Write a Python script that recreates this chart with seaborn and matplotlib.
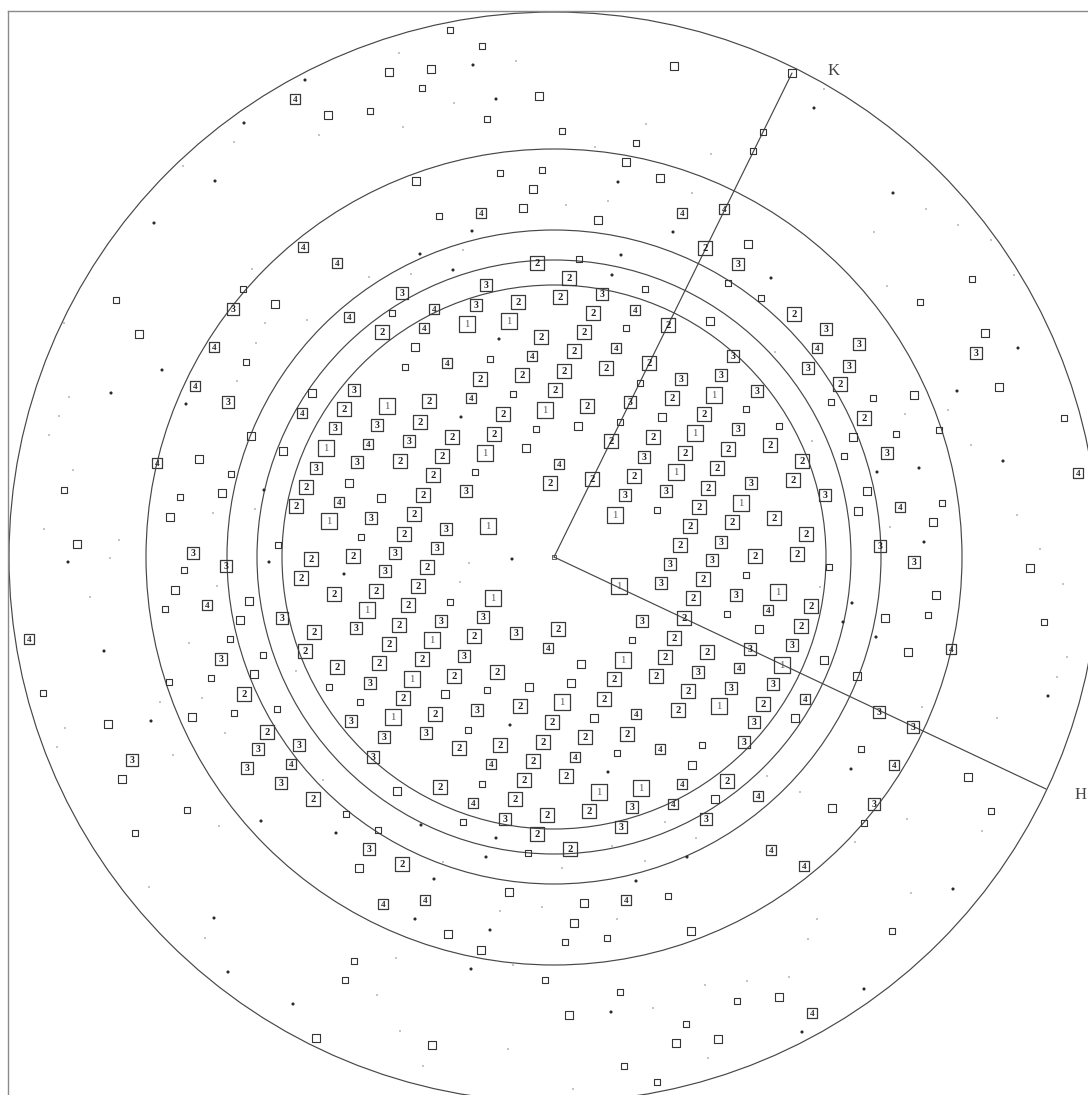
import numpy as np
import pandas as pd
import matplotlib
matplotlib.use("Agg")
import matplotlib.pyplot as plt
from matplotlib.patches import Circle
import seaborn as sns

# Detector geometry (pixel frame, origin at top-left of the plate)
beam_centre = (554, 557)
ring_radii = [545, 408, 327, 297, 272]
axis_ends = {"K": (792, 73), "H": (1046, 789)}
axis_label_pos = {"K": (828, 71), "H": (1075, 795)}

# Indexed reflections: (x, y, resolution order)
indexed_spots = [
    (295, 99, 4), (303, 247, 4), (337, 263, 4), (233, 309, 3), (349, 317, 4), (214, 347, 4),
    (481, 213, 4), (682, 213, 4), (724, 209, 4), (705, 248, 2), (537, 263, 2), (569, 278, 2),
    (402, 293, 3), (486, 285, 3), (476, 305, 3), (518, 302, 2), (560, 297, 2), (602, 294, 3),
    (434, 309, 4), (593, 313, 2), (635, 310, 4), (668, 325, 2), (382, 332, 2), (424, 328, 4),
    (467, 324, 1), (509, 321, 1), (541, 337, 2), (584, 332, 2), (574, 351, 2), (616, 348, 4),
    (532, 356, 4), (447, 363, 4), (649, 363, 2),
    (738, 264, 3), (794, 314, 2), (826, 329, 3), (859, 344, 3), (817, 348, 4), (976, 353, 3),
    (733, 356, 3),
    (808, 368, 3), (849, 366, 3), (840, 384, 2), (757, 391, 3), (864, 418, 2), (738, 429, 3),
    (728, 449, 2), (770, 445, 2), (887, 453, 3), (802, 461, 2), (1078, 473, 4), (751, 483, 3),
    (793, 480, 2), (825, 495, 3), (741, 503, 1), (900, 507, 4), (732, 522, 2), (774, 518, 2),
    (806, 534, 2), (880, 546, 3), (755, 556, 2), (797, 554, 2), (914, 562, 3), (736, 595, 3),
    (778, 592, 1), (811, 606, 2), (768, 610, 4), (801, 626, 2), (792, 645, 3), (750, 649, 3),
    (951, 649, 4), (782, 665, 1), (739, 668, 4), (773, 684, 3), (731, 688, 3), (763, 704, 2),
    (805, 699, 4), (879, 712, 3), (754, 722, 3), (913, 727, 3),
    (744, 742, 3), (727, 781, 2), (894, 765, 4), (758, 796, 4), (874, 804, 3), (771, 850, 4),
    (804, 866, 4), (812, 1013, 4),
    (384, 737, 3), (426, 733, 3), (459, 748, 2), (500, 745, 2), (543, 742, 2), (585, 737, 2),
    (627, 734, 2), (373, 757, 3), (491, 764, 4), (533, 761, 2), (575, 757, 4), (660, 749, 4),
    (440, 787, 2), (524, 780, 2), (566, 776, 2), (599, 792, 1), (641, 788, 1), (682, 784, 4),
    (473, 803, 4), (515, 799, 2), (632, 807, 3), (673, 804, 4), (706, 819, 3), (505, 819, 3),
    (547, 815, 2), (589, 811, 2), (621, 827, 3), (537, 834, 2), (369, 849, 3), (570, 849, 2),
    (402, 864, 2), (626, 900, 4), (383, 904, 4), (425, 900, 4),
    (267, 732, 2), (258, 749, 3), (299, 745, 3), (132, 760, 3), (247, 768, 3), (291, 764, 4),
    (281, 783, 3), (313, 799, 2),
    (195, 386, 4), (228, 402, 3), (302, 413, 4), (354, 390, 3), (344, 409, 2), (335, 428, 3),
    (326, 448, 1), (357, 462, 3), (157, 463, 4), (316, 468, 3), (306, 487, 2), (296, 506, 2),
    (339, 502, 4), (329, 521, 1), (193, 553, 3), (311, 559, 2), (353, 556, 2), (226, 566, 3),
    (301, 578, 2), (334, 594, 2), (207, 605, 4), (282, 618, 3), (356, 628, 3), (29, 639, 4),
    (314, 632, 2), (305, 651, 2), (221, 659, 3), (337, 667, 2), (244, 694, 2), (351, 721, 3),
    (480, 379, 2), (522, 375, 2), (564, 371, 2), (606, 368, 2), (681, 379, 3), (721, 375, 3),
    (387, 406, 1), (429, 401, 2), (471, 398, 4), (555, 390, 2), (630, 402, 3), (672, 398, 2),
    (714, 395, 1), (377, 425, 3), (420, 422, 2), (503, 414, 2), (545, 410, 1), (587, 406, 2),
    (704, 414, 2), (368, 444, 4), (409, 441, 3), (452, 437, 2), (494, 434, 2), (611, 441, 2),
    (653, 437, 2), (695, 433, 1), (400, 461, 2), (442, 456, 2), (485, 453, 1), (559, 464, 4),
    (644, 457, 3), (685, 453, 2), (433, 475, 2), (550, 483, 2), (592, 479, 2), (634, 476, 2),
    (676, 472, 1), (717, 468, 2), (423, 495, 2), (466, 491, 3), (625, 495, 3), (666, 491, 3),
    (708, 488, 2), (371, 518, 3), (414, 514, 2), (615, 515, 1), (699, 507, 2), (404, 534, 2),
    (446, 529, 3), (488, 526, 1), (690, 526, 2), (395, 553, 3), (437, 548, 3), (680, 545, 2),
    (721, 542, 3), (385, 571, 3), (427, 567, 2), (670, 564, 3), (712, 560, 3), (376, 591, 2),
    (418, 586, 2), (619, 586, 1), (661, 583, 3), (703, 579, 2), (367, 610, 1), (408, 605, 2),
    (493, 598, 1), (693, 598, 2), (399, 625, 2), (441, 621, 3), (483, 617, 3), (642, 621, 3),
    (684, 618, 2), (389, 644, 2), (432, 640, 1), (474, 636, 2), (516, 633, 3), (558, 629, 2),
    (674, 638, 2), (707, 652, 2), (379, 663, 2), (422, 659, 2), (464, 656, 3), (548, 648, 4),
    (623, 660, 1), (665, 657, 2), (698, 672, 3), (370, 683, 3), (412, 679, 1), (454, 676, 2),
    (497, 672, 2), (614, 679, 2), (656, 676, 2), (688, 691, 2), (403, 698, 2), (393, 717, 1),
    (435, 714, 2), (477, 710, 3), (520, 706, 2), (562, 702, 1), (604, 699, 2), (678, 710, 2),
    (719, 706, 1), (552, 722, 2), (636, 714, 4),
]

# Unindexed reflections: (x, y, strength class) - "L" strong, "S" weaker
open_spots = [
    (328, 115, "L"), (243, 289, "S"), (116, 300, "S"), (275, 304, "L"), (139, 334, "L"), (246, 362, "S"),
    (450, 30, "S"), (482, 46, "S"), (389, 72, "L"), (431, 69, "L"), (674, 66, "L"), (422, 88, "S"),
    (539, 96, "L"), (370, 111, "S"), (487, 119, "S"), (562, 131, "S"), (636, 143, "S"), (626, 162, "L"),
    (416, 181, "L"), (500, 173, "S"), (542, 170, "S"), (533, 189, "L"), (660, 178, "L"), (439, 216, "S"),
    (523, 208, "L"), (598, 220, "L"), (579, 259, "S"), (645, 289, "S"), (392, 313, "S"), (710, 321, "L"),
    (626, 328, "S"), (415, 347, "L"), (490, 359, "S"),
    (792, 73, "L"), (763, 132, "S"), (753, 151, "S"), (748, 244, "L"), (728, 283, "S"), (761, 298, "S"),
    (972, 279, "S"), (920, 302, "S"), (985, 333, "L"),
    (914, 395, "L"), (873, 398, "S"), (999, 387, "L"), (831, 402, "S"), (746, 409, "S"), (1064, 418, "S"),
    (779, 426, "S"), (939, 430, "S"), (896, 434, "S"), (853, 437, "L"), (844, 456, "S"), (867, 491, "L"),
    (858, 511, "L"), (942, 503, "S"), (933, 522, "L"), (829, 567, "S"), (1030, 568, "L"), (746, 575, "S"),
    (936, 595, "L"), (928, 615, "S"), (1044, 622, "S"), (885, 618, "L"), (727, 614, "S"), (759, 629, "L"),
    (908, 652, "L"), (824, 660, "L"), (857, 676, "L"), (795, 718, "L"),
    (861, 749, "S"), (968, 777, "L"), (832, 808, "L"), (864, 823, "S"), (991, 811, "S"), (892, 931, "S"),
    (779, 997, "L"), (737, 1001, "S"),
    (468, 730, "S"), (617, 753, "S"), (702, 745, "S"), (692, 765, "L"), (397, 791, "L"), (482, 784, "S"),
    (715, 799, "L"), (463, 822, "S"), (378, 830, "S"), (528, 853, "S"), (509, 892, "L"), (584, 903, "L"),
    (668, 896, "S"), (574, 923, "L"), (448, 934, "L"), (565, 942, "S"), (607, 938, "S"), (691, 931, "L"),
    (481, 950, "L"), (545, 980, "S"), (620, 992, "S"), (569, 1015, "L"), (686, 1024, "S"), (432, 1045, "L"),
    (676, 1043, "L"), (718, 1039, "L"), (624, 1066, "S"), (657, 1082, "S"),
    (122, 779, "L"), (187, 810, "S"), (346, 814, "S"), (135, 833, "S"), (359, 868, "L"), (354, 961, "S"),
    (345, 980, "S"), (316, 1038, "L"),
    (312, 393, "L"), (251, 436, "L"), (283, 451, "L"), (199, 459, "L"), (231, 474, "S"), (349, 483, "L"),
    (64, 490, "S"), (222, 493, "L"), (180, 497, "S"), (170, 517, "L"), (361, 537, "S"), (77, 544, "L"),
    (278, 545, "S"), (184, 570, "S"), (175, 590, "L"), (249, 601, "L"), (165, 609, "S"), (240, 620, "L"),
    (230, 639, "S"), (263, 655, "S"), (211, 678, "S"), (169, 682, "S"), (254, 674, "L"), (329, 687, "S"),
    (43, 693, "S"), (277, 709, "S"), (234, 713, "S"), (360, 702, "S"), (192, 717, "L"), (108, 724, "L"),
    (405, 367, "S"), (513, 394, "S"), (640, 383, "S"), (620, 422, "S"), (662, 417, "L"), (536, 429, "S"),
    (578, 426, "L"), (526, 448, "L"), (475, 472, "S"), (381, 498, "L"), (657, 510, "S"), (450, 602, "S"),
    (632, 640, "S"), (581, 664, "L"), (445, 694, "L"), (487, 690, "S"), (529, 687, "L"), (571, 683, "L"),
    (594, 718, "L"),
]

# Faint diffuse spots: (x, y, class) - "d" visible dot, "t" trace
weak_spots = [
    (305, 80, "d"), (244, 123, "d"), (319, 135, "t"), (234, 142, "t"), (183, 166, "t"), (215, 181, "d"),
    (154, 223, "d"), (252, 269, "t"), (265, 323, "t"), (307, 320, "t"), (256, 343, "t"), (64, 323, "t"),
    (399, 53, "t"), (473, 65, "d"), (516, 61, "t"), (454, 103, "t"), (496, 99, "d"), (403, 127, "t"),
    (646, 124, "t"), (595, 147, "t"), (711, 154, "t"), (618, 182, "d"), (692, 193, "t"), (566, 205, "t"),
    (608, 201, "t"), (472, 231, "d"), (673, 232, "d"), (420, 254, "d"), (463, 250, "t"), (621, 255, "d"),
    (369, 277, "t"), (411, 274, "t"), (453, 270, "d"), (612, 275, "d"), (499, 339, "d"),
    (824, 89, "t"), (814, 108, "d"), (893, 193, "d"), (926, 209, "t"), (958, 225, "t"), (874, 232, "t"),
    (991, 240, "t"), (771, 278, "d"), (887, 286, "t"), (1014, 275, "t"), (775, 352, "t"), (1018, 348, "d"),
    (957, 391, "d"), (948, 410, "t"), (905, 414, "t"), (971, 445, "t"), (812, 441, "t"), (1003, 461, "d"),
    (877, 472, "d"), (919, 468, "d"), (1017, 515, "t"), (890, 527, "t"), (924, 542, "d"), (1040, 549, "t"),
    (1063, 584, "t"), (820, 587, "t"), (852, 603, "d"), (843, 622, "d"), (876, 637, "d"), (1067, 657, "t"),
    (1057, 677, "t"), (1048, 696, "d"), (922, 707, "t"), (997, 718, "t"),
    (851, 769, "d"), (767, 776, "t"), (800, 792, "t"), (907, 819, "t"), (982, 831, "t"), (855, 842, "t"),
    (953, 889, "d"), (911, 893, "t"), (817, 919, "t"), (808, 939, "t"), (789, 977, "t"), (747, 981, "t"),
    (864, 989, "d"), (802, 1032, "d"),
    (608, 772, "d"), (421, 825, "d"), (665, 822, "t"), (696, 838, "t"), (496, 838, "d"), (612, 846, "t"),
    (486, 857, "d"), (443, 862, "t"), (645, 861, "t"), (687, 857, "d"), (562, 868, "t"), (434, 879, "d"),
    (636, 881, "d"), (542, 907, "t"), (500, 911, "t"), (415, 919, "d"), (617, 919, "t"), (490, 930, "d"),
    (396, 958, "t"), (513, 965, "t"), (471, 969, "d"), (705, 985, "t"), (377, 995, "t"), (653, 1008, "t"),
    (611, 1012, "d"), (400, 1031, "t"), (508, 1049, "t"), (708, 1058, "t"), (423, 1066, "t"), (573, 1089, "t"),
    (173, 755, "t"), (225, 733, "t"), (57, 747, "t"), (323, 780, "t"), (261, 821, "d"), (336, 833, "d"),
    (219, 826, "t"), (149, 887, "t"), (214, 918, "d"), (205, 938, "t"), (228, 972, "d"), (293, 1004, "d"),
    (162, 370, "d"), (111, 393, "d"), (69, 397, "t"), (237, 381, "t"), (186, 404, "d"), (59, 416, "t"),
    (49, 435, "t"), (73, 470, "t"), (264, 490, "d"), (213, 513, "t"), (255, 509, "t"), (44, 529, "t"),
    (119, 540, "t"), (110, 558, "t"), (68, 562, "d"), (269, 562, "d"), (344, 574, "d"), (217, 586, "t"),
    (90, 597, "t"), (189, 643, "t"), (104, 651, "d"), (296, 671, "t"), (202, 698, "t"), (151, 721, "d"),
    (160, 702, "t"), (65, 728, "t"),
    (461, 417, "d"), (512, 559, "d"), (469, 563, "t"), (460, 582, "t"), (510, 725, "d"),
]

# ---------------------------------------------------------------- tables
idx = pd.DataFrame(indexed_spots, columns=["x", "y", "order"])
idx["order"] = idx["order"].astype(str)
opn = pd.DataFrame(open_spots, columns=["x", "y", "cls"])
wk = pd.DataFrame(weak_spots, columns=["x", "y", "cls"])

# ---------------------------------------------------------------- figure
sns.set_style("white")
plt.rcParams["font.family"] = ["Liberation Serif", "DejaVu Serif"]

W, H = 1088, 1095
fig = plt.figure(figsize=(W / 100, H / 100), dpi=100)
# Plate frame: left/top edges visible, right/bottom run past the image
x0, x1, y0, y1 = 8, 1100, 11, 1105
ax = fig.add_axes([x0 / W, 1 - y1 / H, (x1 - x0) / W, (y1 - y0) / H])
ax.set_xlim(x0, x1)
ax.set_ylim(y1, y0)
ax.set_xticks([])
ax.set_yticks([])
ax.set_xlabel("")
ax.set_ylabel("")
for s in ax.spines.values():
    s.set_color("#8a8a8a")
    s.set_linewidth(1.0)

cx, cy = beam_centre
line_col = "#474747"
for r in ring_radii:
    ax.add_patch(Circle((cx, cy), r, fill=False, ec=line_col, lw=0.85, zorder=1))

for name, (ex, ey) in axis_ends.items():
    ax.plot([cx, ex], [cy, ey], color=line_col, lw=0.85, zorder=1)
    lx, ly = axis_label_pos[name]
    ax.text(lx, ly, name, fontsize=12, color="#444444", ha="left", va="center",
            family=["Liberation Serif", "DejaVu Serif"], clip_on=False)
ax.scatter([cx], [cy], s=6, marker="s", facecolor="none", edgecolor=line_col, lw=0.6, zorder=2)

# weak diffuse spots
sns.scatterplot(data=wk, x="x", y="y", size="cls", sizes={"d": 5, "t": 1.5},
                hue="cls", palette={"d": "#2a2a2a", "t": "#9a9a9a"},
                marker="o", linewidth=0, legend=False, ax=ax, zorder=2)

# unindexed reflections: hollow squares
sns.scatterplot(data=opn, x="x", y="y", size="cls", sizes={"L": 40, "S": 15},
                marker="s", color="#333333", linewidth=0.8, legend=False, ax=ax, zorder=3)
ax.collections[-1].set_facecolor("none")
ax.collections[-1].set_edgecolor("#353535")

# indexed reflections: labelled squares
box_sizes = {"1": 135, "2": 92, "3": 72, "4": 52}
sns.scatterplot(data=idx, x="x", y="y", size="order", sizes=box_sizes,
                marker="s", color="#333333", linewidth=0.9, legend=False, ax=ax, zorder=3)
ax.collections[-1].set_facecolor("none")
ax.collections[-1].set_edgecolor("#3a3a3a")

font_sizes = {"1": 7.6, "2": 7.6, "3": 7.0, "4": 6.6}
font_weights = {"1": "normal", "2": "bold", "3": "bold", "4": "bold"}
font_colors = {"1": "#555555", "2": "#222222", "3": "#222222", "4": "#333333"}
for x, y, o in zip(idx["x"], idx["y"], idx["order"]):
    ax.text(x, y + 0.5, o, fontsize=font_sizes[o], ha="center", va="center",
            color=font_colors[o], fontweight=font_weights[o], zorder=4)

ax.set_xlim(x0, x1)
ax.set_ylim(y1, y0)
fig.savefig("out.png", dpi=100)
